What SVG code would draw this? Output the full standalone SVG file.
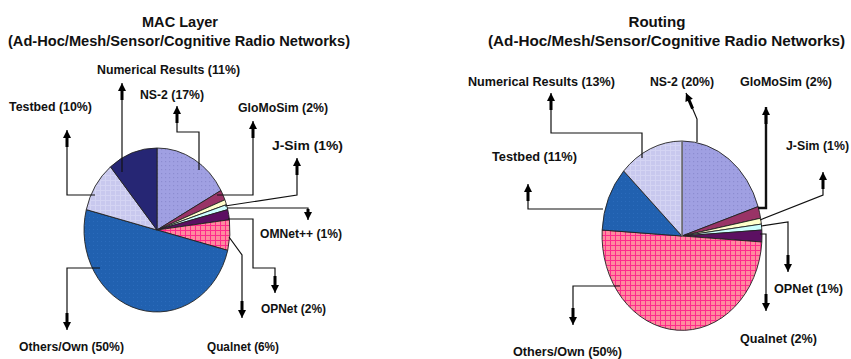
<svg xmlns="http://www.w3.org/2000/svg" width="851" height="359" viewBox="0 0 851 359">
<style>
text{font-family:"Liberation Sans",Arial,sans-serif;font-weight:bold;fill:#111}
.t{font-size:15px}
.l{font-size:12px}
.ld{fill:none;stroke:#111;stroke-width:1.2}
.sl{stroke:#222;stroke-width:0.9;stroke-linejoin:round}
</style>
<defs>
<marker id="ah" markerUnits="userSpaceOnUse" viewBox="-20 -5 21 10" refX="0" refY="0" markerWidth="21" markerHeight="10" orient="auto" overflow="visible">
<path d="M0,0 L-8,-4 L-8,4 Z M-7,-1.5 H-17 V1.5 H-7 Z" fill="#000"/>
</marker>
<marker id="ah2" markerUnits="userSpaceOnUse" viewBox="-9 -5 10 10" refX="0" refY="0" markerWidth="10" markerHeight="10" orient="auto" overflow="visible">
<path d="M0,0 L-8,-4 L-8,4 Z M-7,-1.5 H-11 V1.5 H-7 Z" fill="#000"/>
</marker>
<pattern id="pNS" width="4" height="4" patternUnits="userSpaceOnUse"><rect width="4" height="4" fill="#A0A0E2"/><rect x="1" y="1" width="1.2" height="1.2" fill="#8C8CD0"/></pattern>
<pattern id="pLav" width="5" height="5" patternUnits="userSpaceOnUse"><rect width="5" height="5" fill="#C8C8EE"/><path d="M0,0.5H5M0.5,0V5" stroke="#D4D4F3" stroke-width="1"/></pattern>
<pattern id="pPink" width="5" height="5" patternUnits="userSpaceOnUse"><rect width="5" height="5" fill="#FF8A9E"/><path d="M0,0.5H5M0.5,0V5" stroke="#FF2A8C" stroke-width="1"/></pattern>
<pattern id="pBlue" width="4" height="4" patternUnits="userSpaceOnUse"><rect width="4" height="4" fill="#2161B0"/><rect x="1" y="1" width="1" height="1" fill="#2B6BBB"/></pattern>
</defs>

<g id="title-mac">
<text class="t" x="180" y="27" text-anchor="middle" textLength="76" lengthAdjust="spacingAndGlyphs">MAC Layer</text>
<text class="t" x="8" y="46" textLength="342" lengthAdjust="spacingAndGlyphs">(Ad-Hoc/Mesh/Sensor/Cognitive Radio Networks)</text>
</g>
<g id="title-routing">
<text class="t" x="657" y="27" text-anchor="middle" textLength="57" lengthAdjust="spacingAndGlyphs">Routing</text>
<text class="t" x="488" y="46" textLength="357" lengthAdjust="spacingAndGlyphs">(Ad-Hoc/Mesh/Sensor/Cognitive Radio Networks)</text>
</g>

<g id="pie-mac">
<path class="sl" fill="url(#pNS)" d="M157,230 L157,148 A73,82 0 0 1 220.97,190.49 Z"/>
<path class="sl" fill="#993366" d="M157,230 L220.97,190.49 A73,82 0 0 1 224.88,199.81 Z"/>
<path class="sl" fill="#FFFFCC" d="M157,230 L224.88,199.81 A73,82 0 0 1 226.43,204.66 Z"/>
<path class="sl" fill="#CCFFFF" d="M157,230 L226.43,204.66 A73,82 0 0 1 227.71,209.61 Z"/>
<path class="sl" fill="#5C1062" d="M157,230 L227.71,209.61 A73,82 0 0 1 229.42,219.72 Z"/>
<path class="sl" fill="url(#pPink)" d="M157,230 L229.42,219.72 A73,82 0 0 1 227.71,250.39 Z"/>
<path class="sl" fill="url(#pBlue)" d="M157,230 L227.71,250.39 A73,82 0 0 1 86.29,209.61 Z"/>
<path class="sl" fill="url(#pLav)" d="M157,230 L86.29,209.61 A73,82 0 0 1 110.47,166.82 Z"/>
<path class="sl" fill="#262674" d="M157,230 L110.47,166.82 A73,82 0 0 1 157,148 Z"/>
</g>

<g id="pie-routing">
<path class="sl" fill="url(#pNS)" d="M682,236 L682,141 A80,95 0 0 1 758.09,206.64 Z"/>
<path class="sl" fill="#993366" d="M682,236 L758.09,206.64 A80,95 0 0 1 760.58,218.20 Z"/>
<path class="sl" fill="#FFFFCC" d="M682,236 L760.58,218.20 A80,95 0 0 1 761.37,224.10 Z"/>
<path class="sl" fill="#CCFFFF" d="M682,236 L761.37,224.10 A80,95 0 0 1 761.84,230.03 Z"/>
<path class="sl" fill="#5C1062" d="M682,236 L761.84,230.03 A80,95 0 0 1 761.84,241.97 Z"/>
<path class="sl" fill="url(#pPink)" d="M682,236 L761.84,241.97 A80,95 0 0 1 602.16,230.03 Z"/>
<path class="sl" fill="url(#pBlue)" d="M682,236 L602.16,230.03 A80,95 0 0 1 623.68,170.97 Z"/>
<path class="sl" fill="url(#pLav)" d="M682,236 L623.68,170.97 A80,95 0 0 1 682,141 Z"/>
<path d="M682,141 V236" stroke="#888" stroke-width="1.2"/>
</g>

<g id="connectors">
<path class="ld" marker-end="url(#ah)" d="M122,172 V83"/>
<path class="ld" marker-end="url(#ah)" d="M199,170 V132 H177 V106"/>
<path class="ld" marker-end="url(#ah)" d="M95,195 H67 V130"/>
<path class="ld" marker-end="url(#ah)" d="M217,195 H253 V121"/>
<path class="ld" marker-end="url(#ah)" d="M225,206 L297,195 V158"/>
<path class="ld" marker-end="url(#ah2)" d="M227,208 H308 V220"/>
<path class="ld" marker-end="url(#ah)" d="M228,219 H253 V268 H275 V293"/>
<path class="ld" marker-end="url(#ah)" d="M229,237 L242,255 V318"/>
<path class="ld" marker-end="url(#ah)" d="M100,268 H67 V330"/>

<path class="ld" marker-end="url(#ah)" d="M642,158 V133 H551 V93"/>
<path class="ld" marker-end="url(#ah)" d="M697,142 V119 L686,93"/>
<path class="ld" marker-end="url(#ah)" style="stroke-width:2.4" d="M758,208 H766 V107"/>
<path class="ld" marker-end="url(#ah)" d="M760,220 L823,195 V172"/>
<path class="ld" marker-end="url(#ah)" d="M761,226 L788,222 V272"/>
<path class="ld" marker-end="url(#ah)" d="M760,234 H766 V311"/>
<path class="ld" marker-end="url(#ah)" d="M603,209 H528 V184"/>
<path class="ld" marker-end="url(#ah)" d="M620,286 H573 V325"/>
</g>

<g id="labels-mac">
<text class="l" x="97" y="74" textLength="143" lengthAdjust="spacingAndGlyphs">Numerical Results (11%)</text>
<text class="l" x="140" y="99" textLength="64" lengthAdjust="spacingAndGlyphs">NS-2 (17%)</text>
<text class="l" x="9" y="111" textLength="83" lengthAdjust="spacingAndGlyphs">Testbed (10%)</text>
<text class="l" x="238" y="112" textLength="90" lengthAdjust="spacingAndGlyphs">GloMoSim (2%)</text>
<text class="l" x="272" y="150" textLength="71" lengthAdjust="spacingAndGlyphs">J-Sim (1%)</text>
<text class="l" x="260" y="238" textLength="82" lengthAdjust="spacingAndGlyphs">OMNet++ (1%)</text>
<text class="l" x="261" y="313" textLength="65" lengthAdjust="spacingAndGlyphs">OPNet (2%)</text>
<text class="l" x="19" y="351" textLength="105" lengthAdjust="spacingAndGlyphs">Others/Own (50%)</text>
<text class="l" x="207" y="351" textLength="72" lengthAdjust="spacingAndGlyphs">Qualnet (6%)</text>
</g>
<g id="labels-routing">
<text class="l" x="468" y="86" textLength="147" lengthAdjust="spacingAndGlyphs">Numerical Results (13%)</text>
<text class="l" x="650" y="86" textLength="64" lengthAdjust="spacingAndGlyphs">NS-2 (20%)</text>
<text class="l" x="740" y="86" textLength="92" lengthAdjust="spacingAndGlyphs">GloMoSim (2%)</text>
<text class="l" x="492" y="161" textLength="85" lengthAdjust="spacingAndGlyphs">Testbed (11%)</text>
<text class="l" x="786" y="150" textLength="63" lengthAdjust="spacingAndGlyphs">J-Sim (1%)</text>
<text class="l" x="774" y="293" textLength="69" lengthAdjust="spacingAndGlyphs">OPNet (1%)</text>
<text class="l" x="740" y="343" textLength="77" lengthAdjust="spacingAndGlyphs">Qualnet (2%)</text>
<text class="l" x="513" y="356" textLength="109" lengthAdjust="spacingAndGlyphs">Others/Own (50%)</text>
</g>
</svg>
